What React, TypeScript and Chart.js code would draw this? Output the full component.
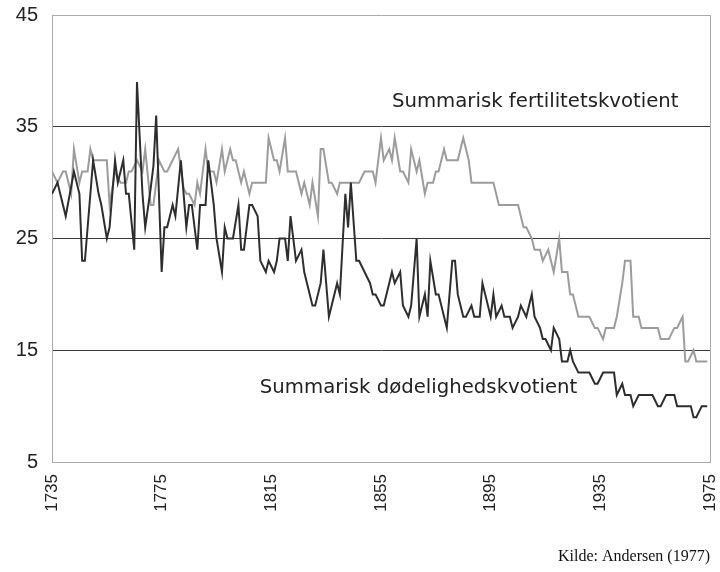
import React, { useEffect, useRef } from "react";
import { Chart, registerables } from "chart.js";

Chart.register(...registerables);

// Summarisk dødelighedskvotient (mortality) – vertex years and values
const MORT_YEARS = [
  1735, 1737, 1739, 1740, 1743, 1745, 1746, 1747, 1750, 1752, 1753, 1755, 1756, 1758, 1759, 1761, 1762, 1763, 1765, 1766,
  1768, 1769, 1771, 1772, 1773, 1775, 1776, 1777, 1779, 1780, 1782, 1784, 1785, 1786, 1788, 1789, 1791, 1792, 1794, 1795,
  1797, 1798, 1799, 1801, 1803, 1804, 1805, 1807, 1808, 1810, 1811, 1813, 1814, 1816, 1817, 1818, 1820, 1821, 1822, 1824,
  1826, 1827, 1828, 1830, 1831, 1833, 1834, 1836, 1837, 1839, 1840, 1842, 1843, 1844, 1846, 1847, 1849, 1851, 1852, 1853,
  1855, 1856, 1858, 1859, 1860, 1862, 1863, 1865, 1866, 1868, 1869, 1871, 1872, 1873, 1875, 1876, 1878, 1879, 1881, 1882,
  1883, 1885, 1886, 1888, 1889, 1891, 1892, 1894, 1895, 1896, 1897, 1899, 1900, 1902, 1903, 1905, 1906, 1908, 1910, 1911,
  1913, 1914, 1915, 1917, 1918, 1920, 1921, 1923, 1924, 1925, 1927, 1931, 1933, 1934, 1936, 1940, 1941, 1943, 1944, 1946,
  1947, 1949, 1954, 1956, 1957, 1959, 1962, 1963, 1968, 1969, 1970, 1972, 1974,
];
const MORT_VALUES = [
  29, 30, 28, 27, 31, 29, 23, 23, 32, 29, 28, 25, 26, 32, 30, 32, 29, 29, 24, 39,
  29, 26, 29.5, 31.5, 36, 22, 26, 26, 28, 27, 32, 26, 28, 28, 24, 28, 28, 32, 28, 25,
  22, 26, 25, 25, 28, 24, 24, 28, 28, 27, 23, 22, 23, 22, 23, 25, 25, 23, 27, 23,
  24, 22, 21, 19, 19, 21, 24, 18, 19, 21, 20, 29, 26, 30, 23, 23, 22, 21, 20, 20,
  19, 19, 21, 22, 21, 22, 19, 18, 19, 25, 18, 20, 18, 23, 20, 20, 18, 17, 23, 23,
  20, 18, 18, 19, 18, 18, 21, 19, 18, 20, 18, 19, 18, 18, 17, 18, 19, 18, 20, 18,
  17, 16, 16, 15, 17, 16, 14, 14, 15, 14, 13, 13, 12, 12, 13, 13, 11, 12, 11, 11,
  10, 11, 11, 10, 10, 11, 11, 10, 10, 9, 9, 10, 10,
];

// Summarisk fertilitetskvotient (fertility) – vertex years and values
const FERT_YEARS = [
  1735, 1737, 1739, 1740, 1742, 1743, 1745, 1746, 1748, 1749, 1750, 1755, 1756, 1758, 1760, 1762, 1763, 1764, 1766, 1768,
  1769, 1771, 1772, 1774, 1776, 1777, 1781, 1783, 1784, 1785, 1787, 1788, 1789, 1791, 1792, 1794, 1795, 1797, 1798, 1800,
  1801, 1802, 1804, 1805, 1807, 1808, 1813, 1814, 1816, 1817, 1818, 1820, 1821, 1824, 1826, 1827, 1829, 1830, 1832, 1833,
  1834, 1836, 1837, 1839, 1840, 1847, 1849, 1852, 1853, 1855, 1856, 1858, 1859, 1860, 1862, 1863, 1865, 1866, 1868, 1869,
  1871, 1872, 1874, 1875, 1876, 1878, 1879, 1883, 1885, 1887, 1888, 1896, 1898, 1905, 1907, 1908, 1910, 1911, 1913, 1914,
  1916, 1918, 1920, 1921, 1923, 1924, 1925, 1927, 1931, 1933, 1934, 1936, 1937, 1940, 1941, 1943, 1944, 1946, 1947, 1949,
  1950, 1956, 1957, 1960, 1962, 1963, 1965, 1966, 1967, 1969, 1970, 1974,
];
const FERT_VALUES = [
  31, 30, 31, 31, 29, 33, 30, 31, 31, 33, 32, 32, 28, 31, 30, 30, 31, 31, 32, 31,
  33, 28, 28, 32, 31, 31, 33, 29.5, 29, 29, 28, 30, 29, 33, 31, 31, 30, 33, 31, 33,
  32, 32, 30, 31, 29, 30, 30, 34, 32, 32, 31, 34, 31, 31, 29, 30, 28, 30, 27, 33,
  33, 30, 30, 29, 30, 30, 31, 31, 30, 34, 32, 33, 32, 34, 31, 31, 30, 33, 31, 32,
  29, 30, 30, 31, 31, 33, 32, 32, 34, 32, 30, 30, 28, 28, 26, 26, 25, 24, 24, 23,
  24, 22, 25, 22, 22, 20, 20, 18, 18, 17, 17, 16, 17, 17, 18, 21, 23, 23, 18, 18,
  17, 17, 16, 16, 17, 17, 18, 14, 14, 15, 14, 14,
];

const X_TICKS = [1735, 1775, 1815, 1855, 1895, 1935, 1975];
const Y_TICKS = [5, 15, 25, 35, 45];

const LABEL_FERT = "Summarisk fertilitetskvotient";
const LABEL_MORT = "Summarisk dødelighedskvotient";
const SOURCE_TEXT = "Kilde: Andersen (1977)";

const SANS = '"Liberation Sans", Arial, sans-serif';

const textPlugin = {
  id: "textPlugin",
  afterDraw(chart: any) {
    const ctx = chart.ctx;
    const xs = chart.scales.x;
    const ys = chart.scales.y;
    ctx.save();
    ctx.fillStyle = "#222";
    ctx.font = '19.7px "DejaVu Sans", sans-serif';
    ctx.textAlign = "left";
    ctx.textBaseline = "middle";
    ctx.fillText(LABEL_FERT, xs.getPixelForValue(1859), ys.getPixelForValue(37.2));
    ctx.fillText(LABEL_MORT, xs.getPixelForValue(1810.8), ys.getPixelForValue(11.6));
    ctx.font = '16px "Liberation Serif", serif';
    ctx.textAlign = "right";
    ctx.textBaseline = "alphabetic";
    ctx.fillStyle = "#111";
    ctx.fillText(SOURCE_TEXT, chart.chartArea.right, chart.height - 11);
    ctx.restore();
  },
};

export default function App() {
  const ref = useRef<HTMLCanvasElement>(null);
  useEffect(() => {
    document.body.style.margin = "0";
    const canvas = ref.current;
    if (!canvas) return;
    const chart = new Chart(canvas, {
      type: "line",
      data: {
        datasets: [
          {
            label: LABEL_MORT,
            data: MORT_YEARS.map((y, i) => ({ x: y, y: MORT_VALUES[i] })),
            borderColor: "#2e2e2e",
            borderWidth: 2,
            pointRadius: 0,
            tension: 0,
            fill: false,
          },
          {
            label: LABEL_FERT,
            data: FERT_YEARS.map((y, i) => ({ x: y, y: FERT_VALUES[i] })),
            borderColor: "#9c9c9c",
            borderWidth: 2,
            pointRadius: 0,
            tension: 0,
            fill: false,
          },
        ],
      },
      options: {
        animation: false,
        responsive: false,
        devicePixelRatio: 1,
        layout: { padding: { top: 15, right: 10, left: 0, bottom: 0 } },
        plugins: { legend: { display: false }, tooltip: { enabled: false } },
        scales: {
          x: {
            type: "linear",
            min: 1735,
            max: 1975,
            afterBuildTicks: (s: any) => {
              s.ticks = X_TICKS.map((v) => ({ value: v }));
            },
            afterFit: (s: any) => {
              s.height = 110;
              s.paddingLeft = 0;
              s.paddingRight = 0;
            },
            ticks: {
              callback: (v: any) => String(v),
              maxRotation: 90,
              minRotation: 90,
              padding: 12,
              color: "#222",
              font: { family: SANS, size: 17 },
            },
            grid: {
              drawTicks: false,
              color: (c: any) => (c.tick && c.tick.value === 1975 ? "#aaaaaa" : "rgba(0,0,0,0)"),
              lineWidth: 1,
            },
            border: { color: "#aaaaaa", width: 1 },
          },
          y: {
            type: "linear",
            min: 5,
            max: 45,
            afterBuildTicks: (s: any) => {
              s.ticks = Y_TICKS.map((v) => ({ value: v }));
            },
            afterFit: (s: any) => {
              s.width = 52;
              s.paddingTop = 0;
              s.paddingBottom = 0;
            },
            ticks: {
              callback: (v: any) => String(v),
              padding: 14,
              color: "#222",
              font: { family: SANS, size: 20 },
            },
            grid: {
              drawTicks: false,
              color: (c: any) =>
                c.tick && (c.tick.value === 5 || c.tick.value === 45) ? "#aaaaaa" : "#3a3a3a",
              lineWidth: 1,
            },
            border: { color: "#aaaaaa", width: 1 },
          },
        },
      },
      plugins: [textPlugin],
    });
    return () => chart.destroy();
  }, []);
  return (
    <canvas ref={ref} width={720} height={572} style={{ display: "block", width: 720, height: 572 }} />
  );
}
